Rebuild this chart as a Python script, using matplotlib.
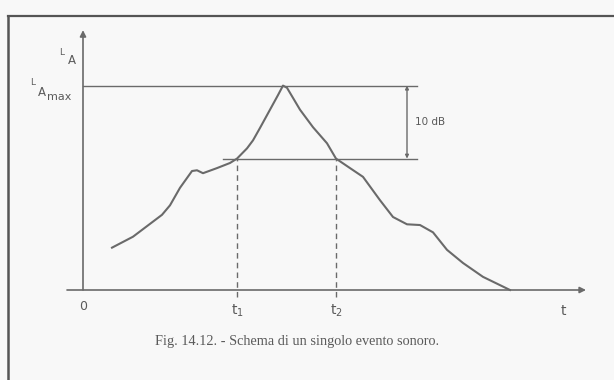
import numpy as np
import matplotlib.pyplot as plt
from matplotlib.lines import Line2D

# sound level curve of a single noise event (t in s, level in dB)
t_curve = [2.9, 5.0, 7.9, 8.7, 9.7, 10.9, 11.4, 12.0, 13.4, 14.7, 15.4, 16.4, 17.0,
           17.7, 18.7, 19.5, 20.0, 20.4, 21.7, 23.0, 24.4, 25.3, 26.7, 28.0, 29.7,
           31.0, 32.4, 33.7, 35.0, 36.4, 38.0, 40.0, 42.7]
l_curve = [55.8, 57.3, 60.3, 61.6, 64.0, 66.3, 66.4, 66.0, 66.7, 67.4, 68.0, 69.4, 70.5,
           72.2, 74.7, 76.7, 78.0, 77.7, 74.7, 72.3, 70.1, 68.0, 66.7, 65.5, 62.3,
           60.0, 59.0, 58.9, 57.9, 55.5, 53.7, 51.8, 50.0]

l_base = 50.0      # level at the time axis
l_max = 78.0       # LAmax
drop = 10.0        # 10 dB below the maximum
t1 = 15.4
t2 = 25.3
t_dim = 32.4       # position of the 10 dB dimension line
t_ref_end = 33.4
t_low_start = 14.0

line_col = '#6a6a6a'
text_col = '#5a5a5a'

fig = plt.figure(figsize=(6.14, 3.80), dpi=100, facecolor='#f8f8f8')
ax = fig.add_axes([0, 0, 1, 1])
ax.set_facecolor('#f8f8f8')
ax.set_xlim(-8.3, 53.1)
ax.set_ylim(50 - 90 / 7.3, 50 + 290 / 7.3)
ax.axis('off')

# axes with arrows
ax.annotate('', xy=(50.3, l_base), xytext=(-1.6, l_base),
            arrowprops=dict(arrowstyle='-|>', color=line_col, lw=1.2,
                            mutation_scale=9, shrinkA=0, shrinkB=0))
ax.annotate('', xy=(0, 85.6), xytext=(0, l_base),
            arrowprops=dict(arrowstyle='-|>', color=line_col, lw=1.2,
                            mutation_scale=9, shrinkA=0, shrinkB=0))

# the curve
ax.plot(t_curve, l_curve, color=line_col, lw=1.5, solid_joinstyle='round')

# reference levels
ax.plot([0, t_ref_end], [l_max, l_max], color=line_col, lw=1.0)
ax.plot([t_low_start, t_ref_end], [l_max - drop, l_max - drop], color=line_col, lw=1.0)
ax.annotate('', xy=(t_dim, l_max), xytext=(t_dim, l_max - drop),
            arrowprops=dict(arrowstyle='<|-|>', color=line_col, lw=1.0,
                            mutation_scale=5, shrinkA=0, shrinkB=0))
ax.text(t_dim + 0.8, l_max - drop / 2, '10 dB', fontsize=7.5, color=text_col,
        va='center', ha='left')

# t1, t2 dashed lines
for tt in (t1, t2):
    ax.plot([tt, tt], [l_base - 0.9, l_max - drop], color=line_col, lw=1.0,
            ls=(0, (4, 3)))

# labels
ax.text(0, l_base - 2.2, '0', fontsize=9, color=text_col, ha='center', va='center')
ax.text(t1, l_base - 2.9, 't$_1$', fontsize=10, color=text_col, ha='center', va='center')
ax.text(t2, l_base - 2.9, 't$_2$', fontsize=10, color=text_col, ha='center', va='center')
ax.text(48.0, l_base - 2.9, 't', fontsize=10, color=text_col, ha='center', va='center')

ax.text(-2.1, 82.6, 'L', fontsize=6.5, color=text_col, ha='center', va='center')
ax.text(-1.1, 81.5, 'A', fontsize=8.5, color=text_col, ha='center', va='center')
ax.text(-5.0, 78.4, 'L', fontsize=6.5, color=text_col, ha='center', va='center')
ax.text(-4.1, 77.0, 'A', fontsize=8.5, color=text_col, ha='center', va='center')
ax.text(-3.6, 76.5, 'max', fontsize=8, color=text_col, ha='left', va='center')

fig.text(155 / 614, 1 - 341 / 380, 'Fig. 14.12. - Schema di un singolo evento sonoro.',
         fontsize=10.3, family='Liberation Serif', color=text_col, ha='left', va='center')

# page frame
fig.add_artist(Line2D([8 / 614, 8 / 614], [0, 1 - 16 / 380], color='#555555', lw=1.8))
fig.add_artist(Line2D([8 / 614, 1], [1 - 16 / 380, 1 - 16 / 380], color='#555555', lw=1.6))

fig.savefig('out.png', dpi=100, facecolor=fig.get_facecolor())
